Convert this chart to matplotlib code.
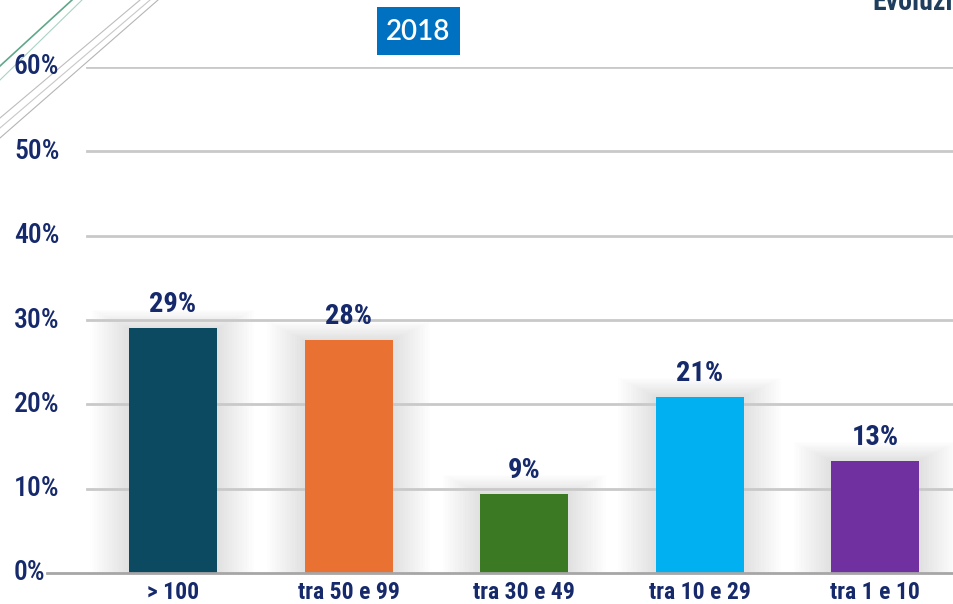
import matplotlib
matplotlib.use("Agg")
import matplotlib.pyplot as plt
from matplotlib.patches import Rectangle, FancyBboxPatch
from matplotlib.lines import Line2D
import matplotlib.font_manager as fm

categories = ["> 100", "tra 50 e 99", "tra 30 e 49", "tra 10 e 29", "tra 1 e 10"]
values = [29.0, 27.6, 9.4, 20.9, 13.3]
value_labels = ["29%", "28%", "9%", "21%", "13%"]
colors = ["#0c4a61", "#e97132", "#3b7a23", "#00b0f0", "#7030a0"]
yticks = [0, 10, 20, 30, 40, 50, 60]
ytick_labels = ["0%", "10%", "20%", "30%", "40%", "50%", "60%"]
title = "2018"

names = {f.name for f in fm.fontManager.ttflist}
cands = ["Liberation Sans Narrow", "Roboto Condensed", "Open Sans Condensed", "Noto Sans Condensed", "Roboto"]
fam = [n for n in cands if n in names] or ["DejaVu Sans"]
FAM = [fam[0], "DejaVu Sans"]
NAVY = "#16296b"

W, H = 954, 604
fig = plt.figure(figsize=(W / 100, H / 100), dpi=100)
fig.patch.set_facecolor("white")

ax_l, ax_r, ax_b, ax_t = 47, 954, 573, 67
ax = fig.add_axes([ax_l / W, (H - ax_b) / H, (ax_r - ax_l) / W, (ax_b - ax_t) / H])
ax.set_xlim(-0.718, 4.448)
ax.set_ylim(0, 60)
ax.set_facecolor("none")
for s in ["top", "right", "left"]:
    ax.spines[s].set_visible(False)
ax.spines["bottom"].set_color("#a6a6a6")
ax.spines["bottom"].set_linewidth(2)
ax.spines["bottom"].set_zorder(5)

gx0 = (87 - ax_l) / (ax_r - ax_l)
for yv in yticks[1:]:
    ax.axhline(yv, xmin=gx0, xmax=1, color="#c9c9c9", lw=2, zorder=2)

px_x = 1 / 175.6
px_y = 60 / (ax_b - ax_t)
bw = 0.5
x = list(range(len(categories)))

# soft shadows
for xi, v in zip(x, values):
    for k in range(1, 16):
        d = k * 2.5
        r = Rectangle((xi - bw / 2 - d * px_x, 0), bw + 2 * d * px_x, v + 0.5 * d * px_y,
                      facecolor="#000000", alpha=0.006, lw=0, zorder=1)
        ax.add_patch(r)

ax.bar(x, values, width=bw, color=colors, zorder=4)
for xi, v, lab in zip(x, values, value_labels):
    ax.text(xi, v + 1.2, lab, ha="center", va="bottom", fontsize=20.5,
            fontweight="bold", color=NAVY, family=FAM, zorder=6)

ax.set_yticks(yticks)
ax.set_yticklabels([])
ax.tick_params(axis="y", length=0)
for yv, lab in zip(yticks, ytick_labels):
    fig.text(14 / W, (H - (ax_b - (ax_b - ax_t) * yv / 60)) / H, lab, ha="left", va="center",
             fontsize=20, fontweight="medium", color=NAVY, family=FAM)

ax.set_xticks(x)
ax.set_xticklabels(categories, fontsize=17, color=NAVY, fontweight="bold", family=FAM)
ax.tick_params(axis="x", length=0, pad=6)

# title box
box = FancyBboxPatch((377 / W, (H - 55) / H), 83 / W, 48 / H, boxstyle="square,pad=0",
                     transform=fig.transFigure, facecolor="#0070c0", edgecolor="none")
fig.patches.append(box)
fig.text(418.5 / W, (H - 32) / H, title, ha="center", va="center", fontsize=20,
         fontweight="semibold", color="white", family=["Lato", "DejaVu Sans"])

fig.text(872 / W, (H - 10) / H, "Evoluzione", ha="left", va="baseline", fontsize=20,
         fontweight="bold", color="#1f3d5c", family=FAM)

def fl(x0, y0, x1, y1, c, lw):
    fig.lines.append(Line2D([x0 / W, x1 / W], [(H - y0) / H, (H - y1) / H],
                            transform=fig.transFigure, color=c, lw=lw))

fl(0, 66, 72, 0, "#5fa88a", 1.2)
fl(0, 80, 82, 0, "#a9d3c2", 0.8)
fl(0, 118, 140, 0, "#bdbdbd", 0.8)
fl(0, 128, 150, 0, "#c8c8c8", 0.8)
fl(0, 138, 158, 0, "#b5b5b5", 0.8)

fig.savefig("out.png", dpi=100, facecolor="white")
